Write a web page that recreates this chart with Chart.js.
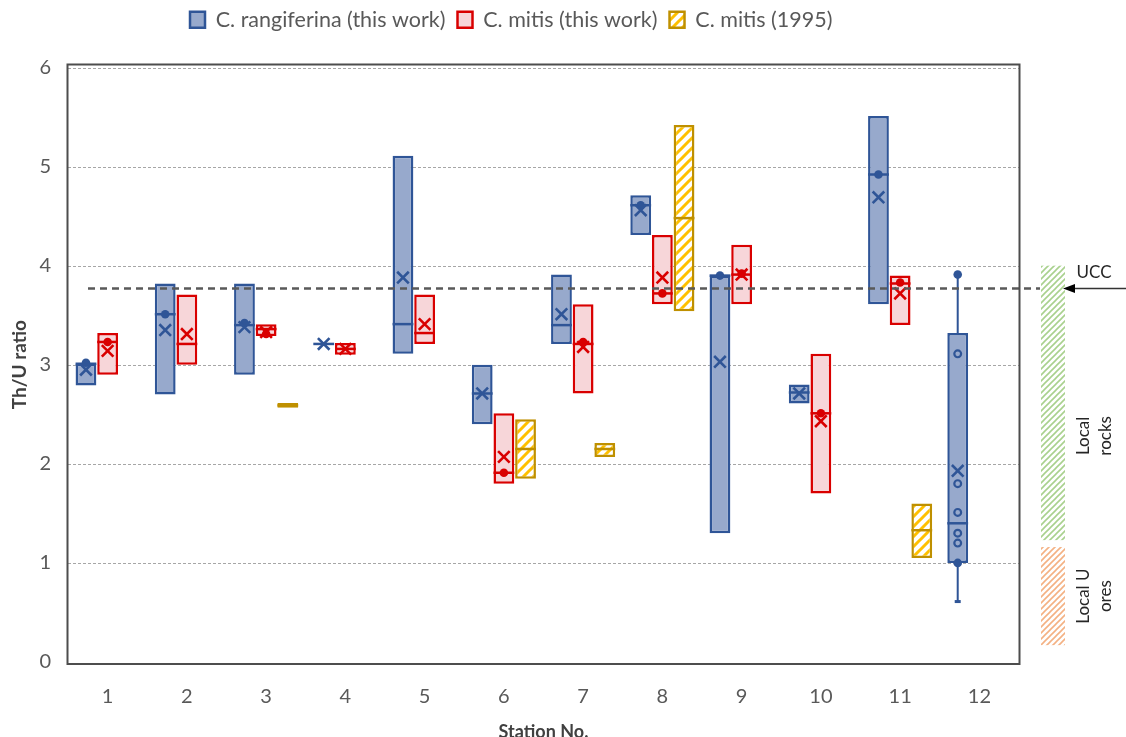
<!DOCTYPE html>
<html><head><meta charset="utf-8">
<script src="https://cdn.jsdelivr.net/npm/chart.js@4.4.1/dist/chart.umd.min.js"></script>
<style>html,body{margin:0;padding:0;background:#fff;overflow:hidden;}#wrap{width:1126px;height:760px;}</style>
</head><body><div id="wrap"><canvas id="c" width="1126" height="760"></canvas></div>
<script>
// ---------- data ----------
const stations = ['1','2','3','4','5','6','7','8','9','10','11','12'];
const yTicks = [0, 1, 2, 3, 4, 5, 6];
const seriesNames = ['C. rangiferina (this work)', 'C. mitis (this work)', 'C. mitis (1995)'];

// C. rangiferina (this work)
const rangLow    = [2.79, 2.70, 2.90, 3.21, 3.11, 2.40, 3.21, 4.31, 1.30, 2.61, 3.61, 1.00];
const rangHigh   = [3.01, 3.82, 3.82, 3.21, 5.11, 3.00, 3.91, 4.71, 3.90, 2.80, 5.51, 3.32];
const rangMedian = [3.01, 3.51, 3.40, 3.21, 3.41, 2.71, 3.40, 4.61, 3.90, 2.72, 4.92, 1.40];
const rangMean   = [2.95, 3.35, 3.38, 3.21, 3.88, 2.71, 3.51, 4.56, 3.03, 2.71, 4.69, 1.93];
const rangDots   = [[3.02], [3.51], [3.42], [], [], [], [], [4.61], [3.90], [], [4.92], [3.91, 1.00]];
const rangOpen   = [[], [], [], [], [], [], [], [], [], [], [], [3.11, 1.80, 1.51, 1.30, 1.20]];
const rangWhiskLow  = [null, null, null, null, null, null, null, null, null, null, null, 0.61];
const rangWhiskHigh = [null, null, null, null, null, null, null, null, null, null, null, 3.91];

// C. mitis (this work)
const mitisLow    = [2.90, 3.00, 3.29, 3.10, 3.21, 1.80, 2.71, 3.61, 3.61, 1.70, 3.40, null];
const mitisHigh   = [3.32, 3.71, 3.41, 3.22, 3.71, 2.51, 3.61, 4.31, 4.21, 3.11, 3.90, null];
const mitisMedian = [3.23, 3.21, 3.36, 3.16, 3.32, 1.91, 3.21, 3.72, 3.91, 2.51, 3.82, null];
const mitisMean   = [3.14, 3.31, 3.33, 3.16, 3.41, 2.07, 3.18, 3.88, 3.91, 2.43, 3.72, null];
const mitisDots   = [[3.23], [], [3.31], [], [], [1.91], [3.23], [3.72], [3.92], [2.51], [3.83], []];

// C. mitis (1995)
const oldLow    = [null, null, 2.565, null, null, 1.85, 2.07, 3.54, null, null, 1.05, null];
const oldHigh   = [null, null, 2.615, null, null, 2.45, 2.21, 5.42, null, null, 1.60, null];
const oldMedian = [null, null, 2.59,  null, null, 2.15, 2.15, 4.48, null, null, 1.33, null];

// reference ranges (right side)
const uccValue = 3.77;
const localRocks = [1.23, 4.0];
const localOres = [0.17, 1.16];

// ---------- styles ----------
const FONT = 'Lato';
const blueLine = '#2F5597', blueFill = '#97A9CC';
const redLine = '#D90000', redFill = '#F7D6D9';
const goldLine = '#BF9000', goldStripe = '#FFC000';

const canvas = document.getElementById('c');
const ctx = canvas.getContext('2d');

function makeHatch(color, bg, size, lw) {
  const c = document.createElement('canvas');
  c.width = size; c.height = size;
  const g = c.getContext('2d');
  if (bg) { g.fillStyle = bg; g.fillRect(0, 0, size, size); }
  g.strokeStyle = color; g.lineWidth = lw;
  g.beginPath();
  g.moveTo(-1, size + 1); g.lineTo(size + 1, -1);
  g.moveTo(-size / 2 - 1, size / 2 + 1); g.lineTo(size / 2 + 1, -size / 2 - 1);
  g.moveTo(size / 2 - 1, size * 1.5 + 1); g.lineTo(size * 1.5 + 1, size / 2 - 1);
  g.stroke();
  return ctx.createPattern(c, 'repeat');
}
const goldHatch = makeHatch(goldStripe, '#ffffff', 10, 3);
const greenHatch = makeHatch('#A9D18E', null, 6, 1.6);
const orangeHatch = makeHatch('#F4B183', null, 6, 1.6);

const pair = (lo, hi) => stations.map((s, i) => lo[i] == null ? null : [lo[i], hi[i]]);

const details = [
  { low: rangLow, high: rangHigh, median: rangMedian, mean: rangMean, dots: rangDots, open: rangOpen, wl: rangWhiskLow, wh: rangWhiskHigh, color: blueLine, fill: blueFill },
  { low: mitisLow, high: mitisHigh, median: mitisMedian, mean: mitisMean, dots: mitisDots, color: redLine, fill: redFill },
  { low: oldLow, high: oldHigh, median: oldMedian, color: goldLine }
];

const decor = {
  id: 'decor',
  afterLayout(chart) {
    chart.legend.left = 178;
    chart.legend.top = -3;
  },
  beforeDatasetsDraw(chart) {
    const { ctx, chartArea: a, scales: { y } } = chart;
    ctx.save();
    ctx.strokeStyle = '#a6a6a6'; ctx.lineWidth = 1; ctx.setLineDash([3, 2]);
    yTicks.forEach(v => {
      if (v === 0) return;
      const py = Math.round(y.getPixelForValue(v)) + 0.5;
      ctx.beginPath(); ctx.moveTo(a.left, py); ctx.lineTo(a.right, py); ctx.stroke();
    });
    ctx.restore();
  },
  afterDatasetsDraw(chart) {
    const { ctx, chartArea: a, scales: { y } } = chart;
    ctx.save();
    details.forEach((d, di) => {
      const meta = chart.getDatasetMeta(di);
      meta.data.forEach((bar, j) => {
        if (d.median[j] == null) return;
        const x = bar.x, hw = bar.width / 2;
        ctx.strokeStyle = d.color; ctx.fillStyle = d.color; ctx.setLineDash([]);
        // whiskers
        if (d.wh && d.wh[j] != null) {
          ctx.lineWidth = 2;
          ctx.beginPath();
          ctx.moveTo(x, y.getPixelForValue(d.wh[j]));
          ctx.lineTo(x, y.getPixelForValue(d.high[j]));
          ctx.moveTo(x, y.getPixelForValue(d.low[j]));
          ctx.lineTo(x, y.getPixelForValue(d.wl[j]));
          ctx.stroke();
          ctx.lineWidth = 3;
          ctx.beginPath();
          ctx.moveTo(x - 3, y.getPixelForValue(d.wl[j]));
          ctx.lineTo(x + 3, y.getPixelForValue(d.wl[j]));
          ctx.stroke();
        }
        // median
        ctx.lineWidth = 2.5;
        const my = y.getPixelForValue(d.median[j]);
        ctx.beginPath(); ctx.moveTo(x - hw, my); ctx.lineTo(x + hw, my); ctx.stroke();
        // filled dots
        if (d.dots) d.dots[j].forEach(v => {
          ctx.beginPath(); ctx.arc(x, y.getPixelForValue(v), 4.3, 0, Math.PI * 2); ctx.fill();
        });
        // open dots
        if (d.open) d.open[j].forEach(v => {
          ctx.beginPath(); ctx.arc(x, y.getPixelForValue(v), 3.4, 0, Math.PI * 2);
          ctx.fillStyle = d.fill; ctx.fill(); ctx.lineWidth = 2.2; ctx.stroke(); ctx.fillStyle = d.color;
        });
        // mean X
        if (d.mean && d.mean[j] != null) {
          const py = y.getPixelForValue(d.mean[j]), s = 5.8;
          ctx.lineWidth = 2.6;
          ctx.beginPath();
          ctx.moveTo(x - s, py - s); ctx.lineTo(x + s, py + s);
          ctx.moveTo(x - s, py + s); ctx.lineTo(x + s, py - s);
          ctx.stroke();
        }
      });
    });

    // UCC dashed line
    const uy = y.getPixelForValue(uccValue);
    ctx.strokeStyle = '#595959'; ctx.lineWidth = 2.5; ctx.setLineDash([7, 5]);
    ctx.beginPath(); ctx.moveTo(a.left + 20, uy); ctx.lineTo(a.right + 21, uy); ctx.stroke();
    ctx.setLineDash([]);

    // plot frame
    ctx.strokeStyle = '#4d4d4d'; ctx.lineWidth = 2;
    ctx.strokeRect(a.left - 0.5, a.top - 3, a.right - a.left + 1, a.bottom - a.top + 5);

    // reference bands
    const bx = a.right + 22, bw = 24;
    const band = (r, pat) => {
      const t = y.getPixelForValue(r[1]), b = y.getPixelForValue(r[0]);
      ctx.fillStyle = pat; ctx.fillRect(bx, t, bw, b - t);
    };
    band(localRocks, greenHatch);
    band(localOres, orangeHatch);

    // arrow to UCC
    ctx.strokeStyle = '#333'; ctx.lineWidth = 1.6;
    ctx.beginPath(); ctx.moveTo(1126, uy); ctx.lineTo(bx + 30, uy); ctx.stroke();
    ctx.fillStyle = '#000';
    ctx.beginPath(); ctx.moveTo(bx + 22, uy); ctx.lineTo(bx + 34, uy - 4.5); ctx.lineTo(bx + 34, uy + 4.5); ctx.closePath(); ctx.fill();

    // labels
    ctx.fillStyle = '#262626';
    ctx.font = `17px ${FONT}`;
    ctx.textAlign = 'center'; ctx.textBaseline = 'middle';
    ctx.fillText('UCC', bx + 53, y.getPixelForValue(localRocks[1]) + 7);
    const vtext = (lines, cy) => {
      ctx.save(); ctx.translate(bx + 43, cy); ctx.rotate(-Math.PI / 2);
      lines.forEach((t, k) => ctx.fillText(t, 0, k * 22));
      ctx.restore();
    };
    vtext(['Local', 'rocks'], (y.getPixelForValue(localRocks[0]) + y.getPixelForValue(localRocks[1])) / 2 + 33);
    vtext(['Local U', 'ores'], (y.getPixelForValue(localOres[0]) + y.getPixelForValue(localOres[1])) / 2);
    ctx.restore();
  }
};

new Chart(ctx, {
  type: 'bar',
  data: {
    labels: stations,
    datasets: [
      { label: seriesNames[0], data: pair(rangLow, rangHigh), backgroundColor: blueFill, borderColor: blueLine, borderWidth: 2.5, borderSkipped: false },
      { label: seriesNames[1], data: pair(mitisLow, mitisHigh), backgroundColor: redFill, borderColor: redLine, borderWidth: 2.5, borderSkipped: false },
      { label: seriesNames[2], data: pair(oldLow, oldHigh), backgroundColor: goldHatch, borderColor: goldLine, borderWidth: 2.5, borderSkipped: false }
    ]
  },
  options: {
    responsive: false,
    animation: false,
    events: [],
    layout: { padding: { left: 0, right: 107, top: 0, bottom: 0 } },
    datasets: { bar: { categoryPercentage: 0.82, barPercentage: 0.96 } },
    plugins: {
      legend: {
        position: 'top', align: 'start',
        labels: { boxWidth: 15, boxHeight: 16, padding: 12, color: '#595959', font: { family: FONT, size: 21.5 } }
      },
      title: { display: true, text: '', weight: 500, padding: { top: 7, bottom: 7 }, font: { size: 10, lineHeight: 1 } },
      tooltip: { enabled: false }
    },
    scales: {
      x: {
        grid: { display: false }, border: { display: false },
        ticks: { color: '#595959', font: { family: FONT, size: 20 }, padding: 15 },
        title: { display: true, text: 'Station No.', color: '#404040', font: { family: FONT, size: 18, weight: 'bold' }, padding: { top: 0, bottom: 17 } },
        afterFit: s => { s.height = 98; }
      },
      y: {
        min: 0, max: 6,
        grid: { display: false }, border: { display: false },
        ticks: { stepSize: 1, color: '#595959', font: { family: FONT, size: 20 }, padding: 9 },
        title: { display: true, text: 'Th/U ratio', color: '#404040', font: { family: FONT, size: 19, weight: 'bold' }, padding: { top: 8, bottom: 0 } },
        afterFit: s => { s.width = 68; }
      }
    }
  },
  plugins: [decor]
});
</script>
</body></html>
